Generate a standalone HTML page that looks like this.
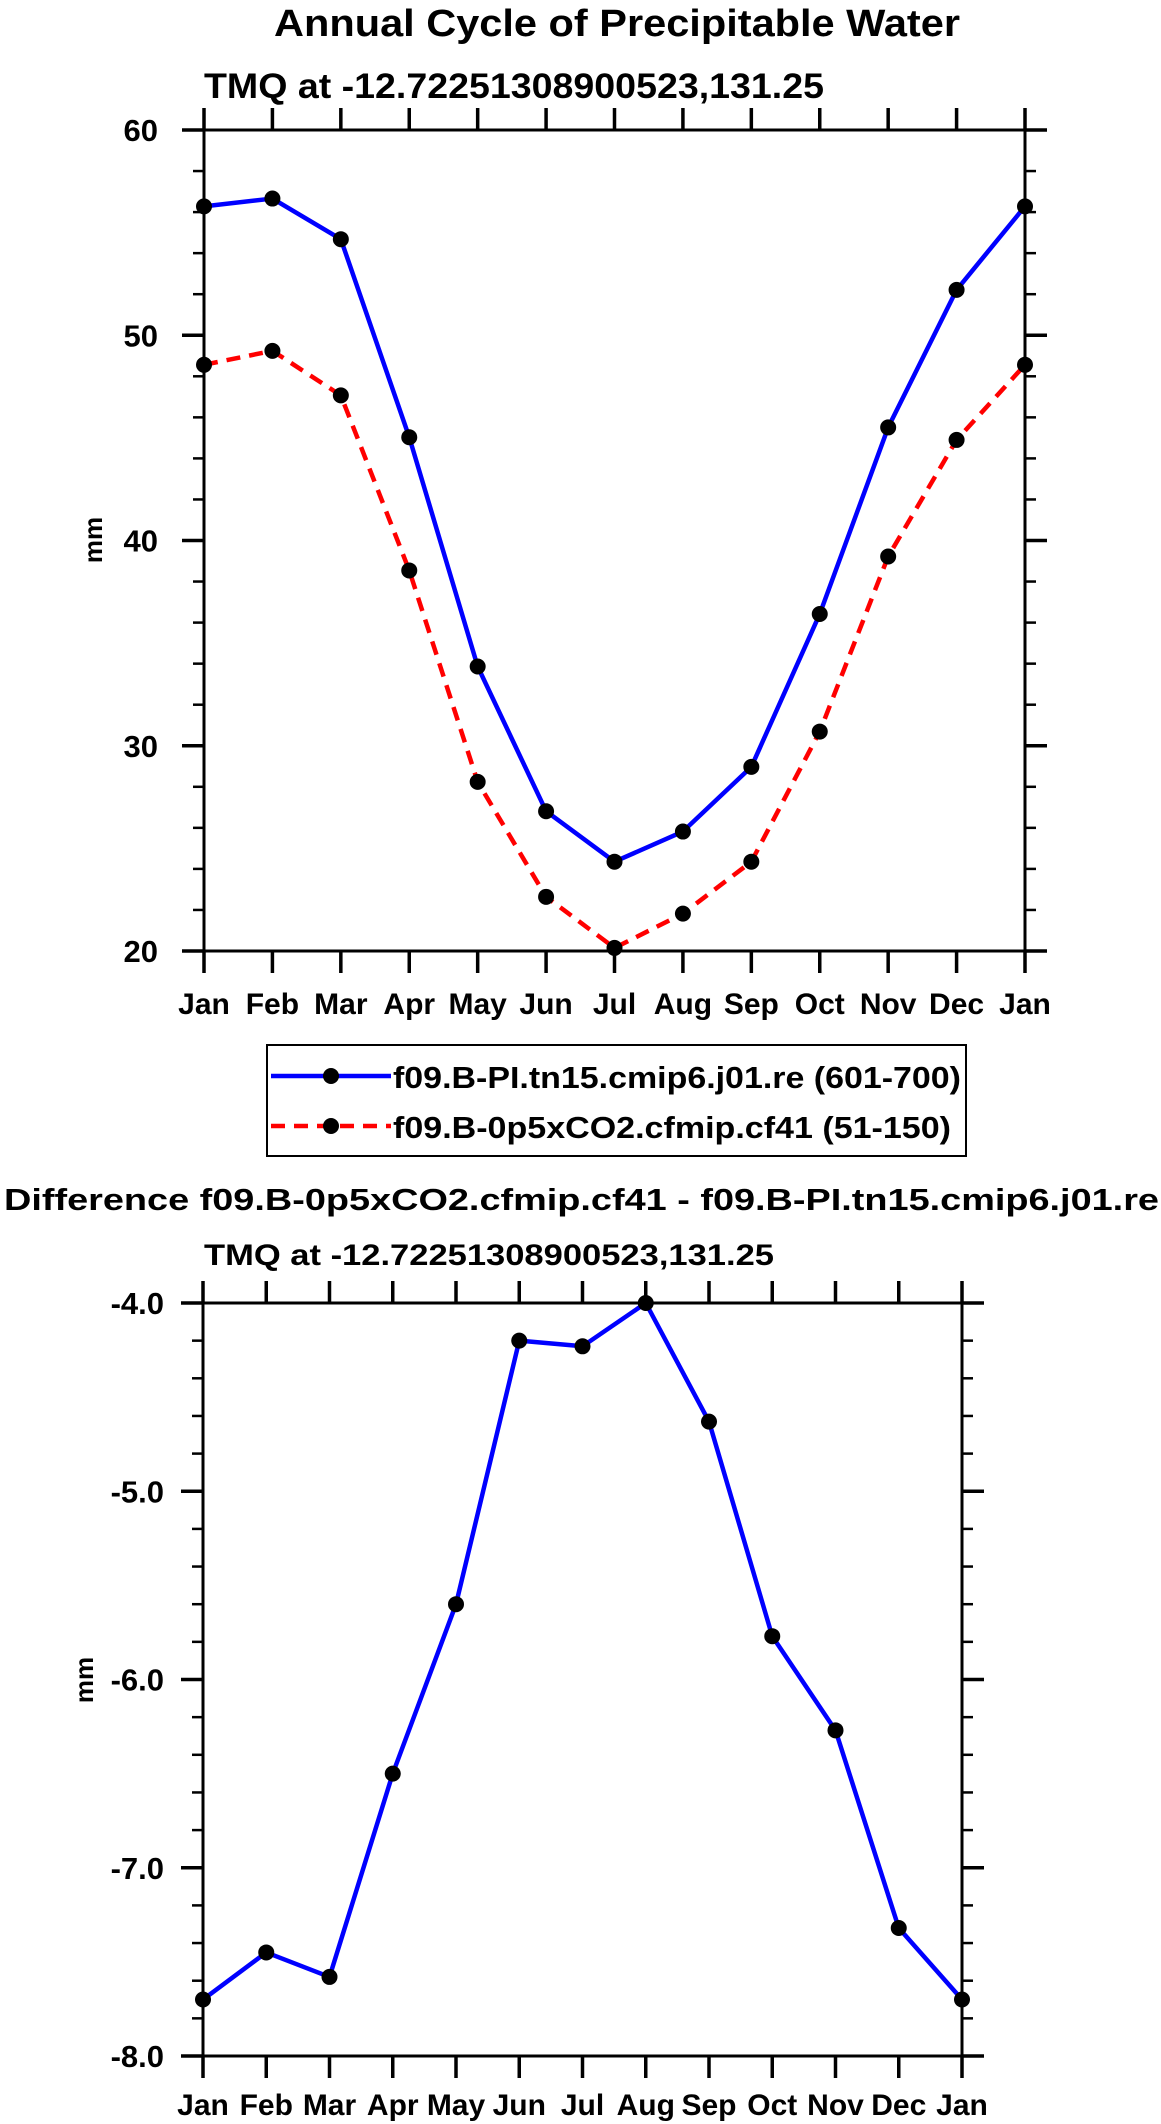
<!DOCTYPE html>
<html><head><meta charset="utf-8"><style>
html,body{margin:0;padding:0;background:#fff}
svg{display:block;font-family:"Liberation Sans",Arial,sans-serif;font-weight:bold}
</style></head><body>
<svg id="svg" width="1161" height="2124" viewBox="0 0 1161 2124" xmlns="http://www.w3.org/2000/svg">
<text x="274" y="36" font-size="38" textLength="686" lengthAdjust="spacingAndGlyphs">Annual Cycle of Precipitable Water</text>
<text x="204" y="98" font-size="35" textLength="620" lengthAdjust="spacingAndGlyphs">TMQ at -12.72251308900523,131.25</text>
<text transform="translate(102,540) rotate(-90)" text-anchor="middle" font-size="26">mm</text>
<g id="top"></g>
<g>
<rect x="267" y="1045" width="699" height="111" fill="none" stroke="#000" stroke-width="2"/>
<g>
<line x1="271" y1="1076" x2="391" y2="1076" stroke="#0000ff" stroke-width="4.5"/>
<circle cx="331" cy="1076" r="8" fill="#000"/>
<text x="393" y="1088" font-size="31" textLength="568" lengthAdjust="spacingAndGlyphs">f09.B-PI.tn15.cmip6.j01.re (601-700)</text>
</g>
<g>
<line x1="271" y1="1126" x2="391" y2="1126" stroke="#ff0000" stroke-width="4.5" stroke-dasharray="14,9"/>
<circle cx="331" cy="1126" r="8" fill="#000"/>
<text x="393" y="1138" font-size="31" textLength="558" lengthAdjust="spacingAndGlyphs">f09.B-0p5xCO2.cfmip.cf41 (51-150)</text>
</g>
</g>
<text x="4" y="1210" font-size="31" textLength="1155" lengthAdjust="spacingAndGlyphs">Difference f09.B-0p5xCO2.cfmip.cf41 - f09.B-PI.tn15.cmip6.j01.re</text>
<text x="204" y="1265" font-size="30" textLength="570" lengthAdjust="spacingAndGlyphs">TMQ at -12.72251308900523,131.25</text>
<text transform="translate(93,1680) rotate(-90)" text-anchor="middle" font-size="26">mm</text>
<g id="bot"></g>
</svg>
<script>
const months = ["Jan","Feb","Mar","Apr","May","Jun","Jul","Aug","Sep","Oct","Nov","Dec","Jan"];
const controlValues = [56.28,56.66,54.68,45.03,33.86,26.81,24.35,25.82,28.97,36.42,45.51,52.21,56.28];
const experimentValues = [48.56,49.24,47.07,38.54,28.24,22.64,20.15,21.82,24.35,30.69,39.22,44.90,48.56];
const diffValues = [-7.70,-7.45,-7.58,-6.50,-5.60,-4.20,-4.23,-4.00,-4.63,-5.77,-6.27,-7.32,-7.70];
const topTicks = [20,30,40,50,60];
const topTickLabels = ["20","30","40","50","60"];
const botTicks = [-8,-7,-6,-5,-4];
const botTickLabels = ["-8.0","-7.0","-6.0","-5.0","-4.0"];

const NS="http://www.w3.org/2000/svg";
function mk(parent,tag,attrs){const e=document.createElementNS(NS,tag);for(const k in attrs)e.setAttribute(k,attrs[k]);parent.appendChild(e);return e;}

function drawPlot(g,cfg){
  const xS=i=>cfg.x0+(cfg.x1-cfg.x0)*i/(months.length-1);
  const yS=v=>cfg.y1+(cfg.y0-cfg.y1)*(v-cfg.vmin)/(cfg.vmax-cfg.vmin);
  const fr=mk(g,'rect',{x:cfg.x0,y:cfg.y0,width:cfg.x1-cfg.x0,height:cfg.y1-cfg.y0,fill:'none',stroke:'#000','stroke-width':3});
  
  
  for(let v=cfg.vmin;v<=cfg.vmax+1e-9;v+=cfg.minor){
    const y=yS(v);
    const a=mk(g,'line',{x1:cfg.x0-11,y1:y,x2:cfg.x0,y2:y,stroke:'#000','stroke-width':2.5});
    
    
    const b=mk(g,'line',{x1:cfg.x1,y1:y,x2:cfg.x1+11,y2:y,stroke:'#000','stroke-width':2.5});
    
    
  }
  cfg.ticks.forEach((v,i)=>{
    const y=yS(v);
    const a=mk(g,'line',{x1:cfg.x0-22,y1:y,x2:cfg.x0,y2:y,stroke:'#000','stroke-width':3.5});
    
    
    const b=mk(g,'line',{x1:cfg.x1,y1:y,x2:cfg.x1+22,y2:y,stroke:'#000','stroke-width':3.5});
    
    
    const t=mk(g,'text',{x:cfg.ylabX,y:y+11,'text-anchor':'end','font-size':31});
    t.textContent=cfg.labels[i];
    
    
  });
  months.forEach((m,i)=>{
    const x=xS(i);
    const a=mk(g,'line',{x1:x,y1:cfg.y1,x2:x,y2:cfg.y1+22,stroke:'#000','stroke-width':3.5});
    
    
    const b=mk(g,'line',{x1:x,y1:cfg.y0-22,x2:x,y2:cfg.y0,stroke:'#000','stroke-width':3.5});
    
    
    const t=mk(g,'text',{x:x,y:cfg.xlabY,'text-anchor':'middle','font-size':30});
    t.textContent=m;
    
    
  });
  cfg.series.forEach(s=>{
    const pts=s.vals.map((v,i)=>xS(i)+','+yS(v)).join(' ');
    const pl=mk(g,'polyline',{points:pts,fill:'none',stroke:s.color,'stroke-width':4.5,'stroke-linejoin':'round'});
    if(s.dash)pl.setAttribute('stroke-dasharray',s.dash);
    
    
    s.vals.forEach((v,i)=>{
      const c=mk(g,'circle',{cx:xS(i),cy:yS(v),r:8,fill:'#000'});
      
      
    });
  });
}
drawPlot(document.getElementById('top'),{x0:204,x1:1025,y0:130,y1:951,vmin:20,vmax:60,minor:2,ticks:topTicks,labels:topTickLabels,ylabX:158,xlabY:1014,
  series:[{vals:controlValues,color:'#0000ff',name:'control'},{vals:experimentValues,color:'#ff0000',dash:'14,9',name:'experiment'}]});
drawPlot(document.getElementById('bot'),{x0:203,x1:962,y0:1303,y1:2056,vmin:-8,vmax:-4,minor:0.2,ticks:botTicks,labels:botTickLabels,ylabX:164,xlabY:2115,
  series:[{vals:diffValues,color:'#0000ff',name:'difference'}]});
</script>
</body></html>
